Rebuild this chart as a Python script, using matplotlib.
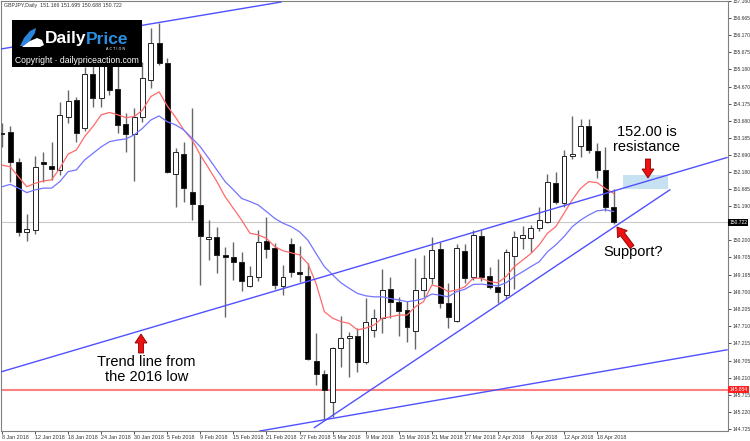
import matplotlib
matplotlib.use('Agg')
import matplotlib.pyplot as plt
from matplotlib.patches import Rectangle, FancyArrow, Polygon

# GBPJPY daily candles, 8 Jan 2018 .. 20 Apr 2018 (bar index = trading day)
opens = [153.33, 153.36, 152.47, 150.44, 150.50, 152.47, 152.37, 152.25, 153.80, 154.28,
         153.46, 155.04, 154.33, 155.74, 154.59, 153.58, 153.29, 153.80, 154.86, 155.95,
         155.37, 152.13, 152.71, 151.62, 151.23, 150.25, 150.29, 149.77, 149.72, 149.58,
         148.88, 149.13, 150.18, 149.97, 148.88, 150.10, 149.29, 149.17, 146.70, 146.32,
         145.49, 147.06, 147.35, 147.43, 146.67, 147.60, 147.95, 148.78, 148.42, 148.18,
         147.58, 148.76, 149.10, 149.94, 148.37, 147.87, 149.90, 149.15, 150.34, 149.17,
         148.85, 148.61, 149.76, 150.28, 150.26, 150.55, 150.74, 151.88, 151.28, 152.65,
         152.95, 153.53, 152.81, 152.25, 151.166]
highs = [153.61, 153.53, 152.59, 150.97, 152.65, 152.78, 153.05, 154.23, 154.57, 154.36,
         155.25, 155.44, 155.60, 156.03, 155.50, 153.90, 154.04, 155.39, 156.37, 156.53,
         155.49, 152.88, 153.07, 154.04, 152.71, 150.79, 150.60, 150.00, 150.16, 149.87,
         149.47, 150.50, 150.89, 150.12, 149.49, 150.26, 150.05, 149.53, 147.50, 146.43,
         147.11, 148.00, 147.55, 147.65, 148.52, 148.20, 149.36, 149.15, 148.56, 148.44,
         149.68, 149.77, 150.29, 150.15, 148.95, 150.09, 150.10, 150.50, 150.50, 149.44,
         149.65, 149.95, 150.48, 150.62, 150.65, 151.18, 152.13, 152.20, 152.83, 153.82,
         153.72, 153.72, 153.02, 152.92, 151.695]
lows = [152.92, 151.91, 150.33, 150.17, 150.39, 151.89, 151.96, 152.10, 153.60, 153.07,
        153.39, 154.07, 154.07, 154.43, 153.33, 152.78, 151.94, 153.65, 154.62, 155.30,
        152.17, 151.18, 151.31, 150.79, 148.90, 149.63, 149.24, 147.97, 149.05, 148.74,
        148.84, 149.03, 149.68, 148.80, 148.61, 149.15, 148.99, 146.72, 146.00, 144.98,
        145.08, 146.53, 146.22, 146.37, 146.61, 147.40, 147.50, 147.94, 147.43, 147.24,
        147.04, 148.56, 148.93, 148.23, 147.65, 147.84, 148.97, 149.05, 149.03, 148.80,
        148.37, 148.50, 148.78, 149.94, 149.86, 150.47, 150.70, 151.26, 151.16, 152.56,
        152.62, 152.75, 152.01, 151.06, 150.688]
closes = [153.30, 152.47, 150.44, 150.52, 152.33, 152.41, 152.28, 153.85, 154.26, 153.33,
          155.04, 154.33, 155.39, 154.57, 153.56, 153.29, 153.80, 154.91, 155.95, 155.37,
          152.18, 152.76, 151.72, 151.25, 150.34, 150.29, 149.77, 149.72, 149.58, 149.03,
          149.17, 150.16, 149.96, 148.90, 149.15, 149.28, 149.22, 146.75, 146.32, 145.85,
          147.06, 147.37, 147.43, 146.67, 147.84, 147.95, 148.76, 148.42, 148.16, 147.69,
          148.76, 149.10, 149.92, 148.37, 147.97, 149.97, 149.10, 150.36, 149.15, 148.84,
          148.69, 149.85, 150.29, 150.35, 150.55, 150.79, 151.91, 151.33, 152.65, 152.70,
          153.53, 152.83, 152.25, 151.18, 150.722]

# moving averages as drawn on the chart
ma_fast = [152.39, 152.34, 152.05, 151.76, 151.86, 151.93, 151.96, 152.30, 152.71, 152.83,
           153.22, 153.51, 153.85, 153.92, 153.85, 153.77, 153.80, 153.99, 154.38, 154.52,
           154.11, 153.78, 153.41, 153.12, 152.68, 152.30, 151.91, 151.47, 151.13, 150.79,
           150.41, 150.36, 150.26, 150.02, 149.90, 149.84, 149.78, 149.53, 148.95, 148.13,
           147.94, 147.84, 147.79, 147.60, 147.65, 147.74, 147.94, 147.98, 148.03, 148.03,
           148.27, 148.42, 148.90, 148.85, 148.71, 148.76, 148.85, 149.10, 149.10, 149.00,
           148.97, 149.15, 149.44, 149.63, 149.82, 150.07, 150.41, 150.60, 150.99, 151.38,
           151.71, 151.91, 151.88, 151.71, 151.57]
ma_slow = [151.76, 151.83, 151.72, 151.59, 151.67, 151.72, 151.72, 151.91, 152.20, 152.25,
           152.54, 152.73, 152.92, 153.07, 153.12, 153.15, 153.27, 153.46, 153.70, 153.82,
           153.65, 153.56, 153.41, 153.17, 152.92, 152.59, 152.25, 151.91, 151.67, 151.42,
           151.33, 151.23, 151.04, 150.84, 150.70, 150.60, 150.45, 150.21, 149.82, 149.44,
           149.20, 148.97, 148.81, 148.66, 148.59, 148.56, 148.56, 148.51, 148.47, 148.42,
           148.45, 148.51, 148.64, 148.61, 148.56, 148.71, 148.78, 148.92, 148.93, 148.90,
           148.88, 148.97, 149.15, 149.29, 149.44, 149.58, 149.87, 150.07, 150.31, 150.60,
           150.79, 150.94, 151.06, 151.09, 151.04]

date_labels = ['8 Jan 2018', '12 Jan 2018', '18 Jan 2018', '24 Jan 2018', '30 Jan 2018',
               '5 Feb 2018', '9 Feb 2018', '15 Feb 2018', '21 Feb 2018', '27 Feb 2018',
               '5 Mar 2018', '9 Mar 2018', '15 Mar 2018', '21 Mar 2018', '27 Mar 2018',
               '2 Apr 2018', '6 Apr 2018', '12 Apr 2018', '18 Apr 2018']
price_ticks = [157.160, 156.665, 156.170, 155.675, 155.180, 154.670, 154.175, 153.680,
               153.185, 152.690, 152.180, 151.685, 151.190, 150.200, 149.705, 149.195,
               148.700, 148.205, 147.710, 147.215, 146.705, 146.210, 145.715, 145.220, 144.725]

last_price = 150.722
level_2016 = 145.854

# hand-drawn trend lines (bar index, price)
trend_top = ([-0.24, 33.76], [155.76, 157.13])
trend_2016 = ([-0.24, 87.72], [146.37, 152.61])
trend_bottom = ([31.2, 87.72], [144.66, 147.02])
trend_support = ([37.8, 80.8], [144.76, 151.67])
resist_zone = (75.17, 80.54, 151.70, 152.10)

small = 'Liberation Sans'

fig = plt.figure(figsize=(7.5, 4.41), dpi=100)
ax = fig.add_axes([1 / 750, 10 / 441, 727 / 750, 430 / 441])
ax.set_xlim(-0.12, 87.84)
ax.set_ylim(144.66, 157.16)

# candles
for i in range(len(opens)):
    o, h, l, c = opens[i], highs[i], lows[i], closes[i]
    ax.plot([i, i], [l, h], color='#666666', lw=1, zorder=2, solid_capstyle='butt')
    bottom = min(o, c)
    height = max(abs(c - o), 0.02)
    face = 'white' if c >= o else 'black'
    ax.add_patch(Rectangle((i - 0.3, bottom), 0.6, height, facecolor=face,
                           edgecolor='#222222', lw=0.7, zorder=3))

x = list(range(len(closes)))
ax.plot(x, ma_fast, color='#ff6a6a', lw=0.9, zorder=4)
ax.plot(x, ma_slow, color='#7474ff', lw=0.9, zorder=4)

for tx, ty in [trend_top, trend_2016, trend_bottom, trend_support]:
    ax.plot(tx, ty, color='#5050ff', lw=1.0, zorder=5)

ax.axhline(last_price, color='#c8c8c8', lw=0.8, zorder=1)
ax.axhline(level_2016, color='#ff8080', lw=1.5, zorder=1)

x0, x1, y0, y1 = resist_zone
ax.add_patch(Rectangle((x0, y0), x1 - x0, y1 - y0, facecolor='#bcdcf0',
                       edgecolor='none', alpha=0.85, zorder=4))

# axes styling
ax.yaxis.tick_right()
ax.set_yticks(price_ticks)
ax.set_yticklabels(['%.3f' % v for v in price_ticks], family=small)
ax.set_xticks(range(0, 4 * len(date_labels), 4))
ax.set_xticklabels(date_labels, ha='left', family=small)
ax.tick_params(axis='x', labelsize=3.9, length=2, width=0.6, colors='#333333', pad=1.2)
ax.tick_params(axis='y', labelsize=3.6, length=2, width=0.6, colors='#333333', pad=1.0)
for s in ax.spines.values():
    s.set_color('#808080')
    s.set_linewidth(0.8)

# price tags on the right axis
for val, bg in [(last_price, 'black'), (level_2016, '#ff2020')]:
    ax.annotate('%.3f' % val, xy=(1.002, val), xycoords=('axes fraction', 'data'),
                fontsize=3.6, family=small, color='white', va='center', ha='left',
                bbox=dict(boxstyle='square,pad=0.2', fc=bg, ec='none'))

# text annotations
ax.text(17.5, 146.45, 'Trend line from\nthe 2016 low', ha='center', va='center',
        fontsize=10.5, family='Liberation Sans', linespacing=1.05, zorder=6)
ax.text(78.0, 153.14, '152.00 is\nresistance', ha='center', va='center',
        fontsize=10.5, family='Liberation Sans', linespacing=1.05, zorder=6)
ax.text(76.3, 149.85, 'Support?', ha='center', va='center',
        fontsize=10.5, family='Liberation Sans', zorder=6)

# overlay in pixel coordinates for logo, header and arrows
ov = fig.add_axes([0, 0, 1, 1])
ov.set_xlim(0, 750)
ov.set_ylim(441, 0)
ov.axis('off')
ov.patch.set_alpha(0)

ov.text(4, 5, 'GBPJPY,Daily  151.166 151.695 150.688 150.722', fontsize=3.8,
        family=small, color='#333333', va='center', ha='left')

ov.add_patch(Rectangle((12, 20), 130, 47, facecolor='black', edgecolor='none'))
ov.add_patch(Polygon([(20, 46), (24, 38), (30, 31), (36, 28), (35, 33), (31, 39), (27, 46)],
                     closed=True, facecolor='#2a86dc', edgecolor='none'))
ov.add_patch(Polygon([(22, 47), (30, 41), (37, 38), (42, 40), (44, 45), (40, 47)],
                     closed=True, facecolor='white', edgecolor='none'))
ov.text(45, 39, 'Daily', color='white', fontsize=12.5, fontweight='bold',
        family='Liberation Sans', va='center', ha='left')
ov.text(86, 39, 'Price', color='#2a8fe0', fontsize=12.5, fontweight='bold',
        family='Liberation Sans', va='center', ha='left')
ov.text(115, 48.5, 'A C T I O N', color='white', fontsize=2.5, va='center', ha='center')
ov.text(77, 60.5, 'Copyright \u00b7 dailypriceaction.com', color='white', fontsize=6.2,
        va='center', ha='center', family='Liberation Sans')

for (ax0, ay0, dx, dy) in [(141, 353, 0, -19), (648, 159, 0, 19), (632, 247, -15, -20)]:
    ov.add_patch(FancyArrow(ax0, ay0, dx, dy, width=5, head_width=12, head_length=9,
                            length_includes_head=True, facecolor='#ee1111',
                            edgecolor='#8a0000', lw=0.6, zorder=7))

fig.savefig('out.png', dpi=100)
